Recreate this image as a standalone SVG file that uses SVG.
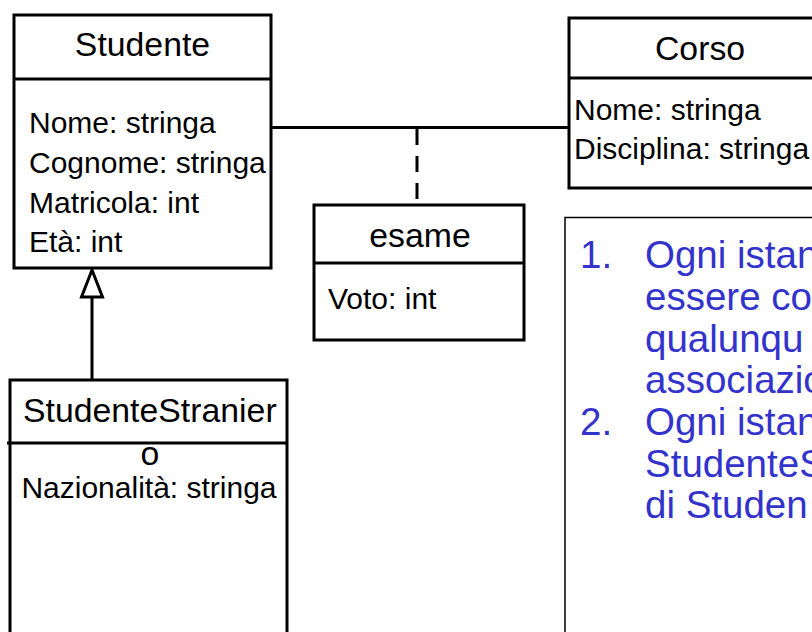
<svg xmlns="http://www.w3.org/2000/svg" width="812" height="632" viewBox="0 0 812 632">
<style>
.box{fill:#fff;stroke:#000;stroke-width:3}
.sep{stroke:#000;stroke-width:3}
.hdr{font-family:"Liberation Sans",Arial,sans-serif;font-size:33.8px;fill:#000}
.attr{font-family:"Liberation Sans",Arial,sans-serif;font-size:30px;fill:#000}
.note{font-family:"Liberation Sans",Arial,sans-serif;font-size:38.5px;fill:#3333CC}
.conn{stroke:#000;stroke-width:3;fill:none}
</style>
<rect width="812" height="632" fill="#fff"/>
<g id="connectors">
<line class="conn" x1="271" y1="127.5" x2="569" y2="127.5"/>
<line class="conn" x1="417" y1="129" x2="417" y2="205" stroke-dasharray="16 11"/>
<line class="conn" x1="92" y1="380" x2="92" y2="297"/>
<polygon points="92,270 81.5,297 102.5,297" fill="#fff" stroke="#000" stroke-width="3"/>
</g>
<g id="Studente">
<rect class="box" x="14" y="15" width="257" height="253"/>
<line class="sep" x1="14" y1="79" x2="271" y2="79"/>
<text class="hdr" x="142.5" y="56" text-anchor="middle">Studente</text>
<text class="attr" x="29" y="133">Nome: stringa</text>
<text class="attr" x="29" y="173">Cognome: stringa</text>
<text class="attr" x="29" y="213">Matricola: int</text>
<text class="attr" x="29" y="252">Età: int</text>
</g>
<g id="Corso">
<rect class="box" x="569" y="18" width="270" height="170"/>
<line class="sep" x1="569" y1="78" x2="839" y2="78"/>
<text class="hdr" x="700" y="60" text-anchor="middle">Corso</text>
<text class="attr" x="574" y="119.5">Nome: stringa</text>
<text class="attr" x="574" y="159">Disciplina: stringa</text>
</g>
<g id="esame">
<rect class="box" x="314" y="205" width="210" height="135"/>
<line class="sep" x1="314" y1="263" x2="524" y2="263"/>
<text class="hdr" x="420" y="247" text-anchor="middle">esame</text>
<text class="attr" x="328" y="309">Voto: int</text>
</g>
<g id="StudenteStraniero">
<rect class="box" x="10" y="380" width="277" height="300"/>
<line class="sep" x1="7" y1="443" x2="287" y2="443"/>
<text class="hdr" x="23" y="422">StudenteStranier</text>
<text class="hdr" x="150" y="465" text-anchor="middle">o</text>
<text class="attr" x="149" y="498" text-anchor="middle">Nazionalità: stringa</text>
</g>
<g id="note">
<rect x="565" y="217.5" width="300" height="500" fill="#fff" stroke="#000" stroke-width="1.5"/>
<text class="note" x="580" y="268">1.</text>
<text class="note" x="645" y="268">Ogni istan</text>
<text class="note" x="645" y="310">essere co</text>
<text class="note" x="645" y="351.5">qualunqu</text>
<text class="note" x="645" y="393">associazio</text>
<text class="note" x="580" y="435">2.</text>
<text class="note" x="645" y="435">Ogni istan</text>
<text class="note" x="645" y="476.5">StudenteS</text>
<text class="note" x="645" y="518">di Studen</text>
</g>
</svg>
